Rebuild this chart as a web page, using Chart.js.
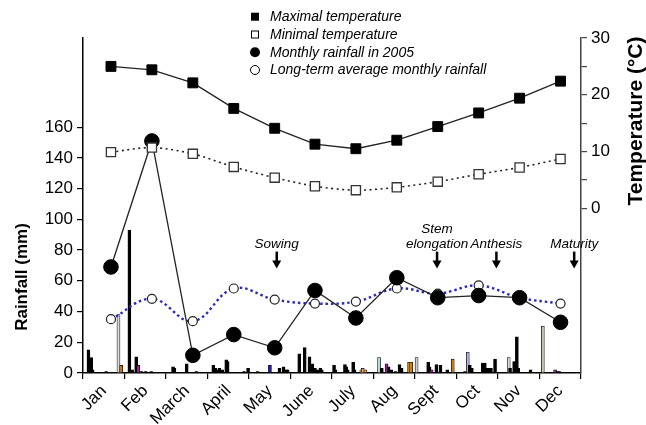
<!DOCTYPE html>
<html>
<head>
<meta charset="utf-8">
<script src="https://cdn.jsdelivr.net/npm/chart.js@4.4.1/dist/chart.umd.min.js"></script>
<style>
  html, body { margin: 0; padding: 0; background: #fff; }
  #wrap { width: 646px; height: 425px; }
</style>
</head>
<body>
<div id="wrap"><canvas id="climateChart" width="646" height="425"></canvas></div>
<script>
// monthly values, plotted on a day-of-year scale
const months = ['Jan', 'Feb', 'March', 'April', 'May', 'June', 'July', 'Aug', 'Sept', 'Oct', 'Nov', 'Dec'];
const monthDay = [20.5, 50.5, 80.5, 110.5, 140.5, 170, 200, 230, 260, 290, 320, 350];
const maxTemp = [25.0, 24.4, 22.1, 17.6, 14.1, 11.3, 10.5, 12.0, 14.4, 16.8, 19.4, 22.4];
const minTemp = [9.9, 10.7, 9.6, 7.3, 5.4, 3.9, 3.2, 3.7, 4.7, 6.0, 7.2, 8.7];
const rain2005 = [69, 151, 11.5, 25, 16.4, 53.7, 35.8, 62, 49, 50.4, 49, 33];
const rainLongTerm = [35, 48.3, 33.7, 55, 47.8, 45.2, 46.5, 55, 51.7, 57, 49, 45.2];

// daily rainfall 2005 (day of year, mm)
const dailyDay = [4, 6, 7, 17, 26, 28, 34, 36, 39, 40.5, 43, 46, 50, 66, 67, 76, 83,
  95.5, 97, 99, 100, 102, 105, 106, 118, 121, 128, 137, 144, 147, 149, 150,
  158.5, 162.5, 166, 168, 170, 172, 174, 175, 184, 185, 192, 193, 194, 198, 199, 204, 205, 207,
  217, 219, 222.5, 224, 226, 229, 232, 233.5, 239, 240.5, 244.5,
  253, 254, 255.5, 259, 262, 267, 271, 280, 282, 283.5, 285, 293, 294.5, 296, 297.5, 299, 302,
  312, 313, 316, 317, 318, 319, 328, 337, 346, 347.5, 349];
const dailyMm = [15, 10, 2, 1, 38, 5, 93, 2, 10.5, 5, 1, 1, 1, 4, 3, 6, 1,
  5, 3, 2, 3, 2, 8.5, 7.5, 1, 3, 1, 5, 3, 4, 2, 2,
  12.5, 16.5, 10.5, 6, 3, 2, 3, 2, 5, 2, 5.5, 4, 2, 7, 2, 2, 3, 2,
  10, 3, 6, 4, 2, 1, 5.5, 3, 7, 7, 10,
  7, 4, 2, 5.5, 5, 2, 9, 1, 13.5, 5, 3, 6.5, 6.5, 3, 3, 3, 9,
  10, 3, 7.5, 5, 23.5, 3, 2, 30.5, 2, 1, 1];

// crop stages
const stageNames = [['Sowing'], ['Stem', 'elongation'], ['Anthesis'], ['Maturity']];
const stageDay = [142, 259.5, 303, 360];

const rainTicks = [0, 20, 40, 60, 80, 100, 120, 140, 160];
const tempTicks = [0, 5, 10, 15, 20, 25, 30];

// fill colours of the few coloured daily bars, everything else black
const barFill = {
  26: '#dcdcdc', 28: '#c8781e', 40.5: '#b01ab0', 137: '#1a1ab4',
  204: '#e0a870', 205: '#e0a870', 207: '#e0a870', 217: '#b4dcdc', 222.5: '#a020a0',
  239: '#c8861e', 240.5: '#c8861e', 244.5: '#d0d0d0', 255.5: '#a020a0', 271: '#d07c10',
  282: '#a8b0e8', 312: '#d8d8d8', 337: '#c4c4a4', 346: '#903090'
};

const FONT = '"Liberation Sans", Arial, sans-serif';
const pts = arr => arr.map((v, i) => ({ x: monthDay[i], y: v }));

const overlay = {
  id: 'overlay',
  afterDraw(chart) {
    const ctx = chart.ctx;
    const xd = chart.scales.xd, yr = chart.scales.yRain;
    ctx.save();
    ctx.fillStyle = '#000';

    // axis titles
    ctx.font = 'bold 17px ' + FONT;
    ctx.textAlign = 'center';
    ctx.textBaseline = 'middle';
    ctx.save();
    ctx.translate(22, 277);
    ctx.rotate(-Math.PI / 2);
    ctx.fillText('Rainfall (mm)', 0, 0);
    ctx.restore();
    ctx.save();
    ctx.font = 'bold 21px ' + FONT;
    ctx.translate(636, 121);
    ctx.rotate(-Math.PI / 2);
    ctx.fillText('Temperature (\u00b0C)', 0, 0);
    ctx.restore();

    // legend
    const lx = 255, tx = 270, rows = [16.7, 34.5, 52.2, 70];
    const labels = ['Maximal temperature', 'Minimal temperature', 'Monthly rainfall in 2005', 'Long-term average monthly rainfall'];
    ctx.font = 'italic 14px ' + FONT;
    ctx.textAlign = 'left';
    labels.forEach((t, i) => {
      const y = rows[i];
      ctx.lineWidth = 1;
      ctx.strokeStyle = '#000';
      if (i === 0) { ctx.fillRect(lx - 4, y - 4, 8, 8); }
      if (i === 1) { ctx.strokeRect(lx - 3.5, y - 3.5, 7, 7); }
      if (i === 2) { ctx.beginPath(); ctx.arc(lx, y, 5, 0, 2 * Math.PI); ctx.fill(); }
      if (i === 3) { ctx.beginPath(); ctx.arc(lx, y, 4.5, 0, 2 * Math.PI); ctx.stroke(); }
      ctx.fillText(t, tx, y + 0.5);
    });

    // crop stages with arrows
    ctx.font = 'italic 13.5px ' + FONT;
    ctx.textAlign = 'center';
    const textY = yr.getPixelForValue(84);
    const topY = yr.getPixelForValue(79);
    const tipY = yr.getPixelForValue(68);
    stageDay.forEach((d, i) => {
      const x = xd.getPixelForValue(d);
      const lines = stageNames[i];
      lines.forEach((t, j) => {
        ctx.fillText(t, x, textY - (lines.length - 1 - j) * 14.5);
      });
      ctx.lineWidth = 2.5;
      ctx.beginPath();
      ctx.moveTo(x, topY);
      ctx.lineTo(x, tipY - 7);
      ctx.stroke();
      ctx.beginPath();
      ctx.moveTo(x - 4.5, tipY - 8);
      ctx.lineTo(x + 4.5, tipY - 8);
      ctx.lineTo(x, tipY);
      ctx.closePath();
      ctx.fill();
    });
    ctx.restore();
  }
};

new Chart(document.getElementById('climateChart'), {
  type: 'line',
  data: {
    labels: months,
    datasets: [
      {
        label: 'Minimal temperature',
        data: pts(minTemp),
        xAxisID: 'xd', yAxisID: 'yTemp',
        borderColor: '#222', borderWidth: 1.6, borderDash: [2, 3.5],
        tension: 0.3,
        pointStyle: 'rect', pointRadius: 6.5,
        pointBackgroundColor: '#fff', pointBorderColor: '#333', pointBorderWidth: 1.3,
        order: 0
      },
      {
        label: 'Maximal temperature',
        data: pts(maxTemp),
        xAxisID: 'xd', yAxisID: 'yTemp',
        borderColor: '#222', borderWidth: 1.3,
        tension: 0,
        pointStyle: 'rect', pointRadius: 7,
        pointBackgroundColor: '#000', pointBorderColor: '#000', pointBorderWidth: 1,
        order: 1
      },
      {
        label: 'Monthly rainfall in 2005',
        data: pts(rain2005),
        xAxisID: 'xd', yAxisID: 'yRain',
        borderColor: '#222', borderWidth: 1.3,
        tension: 0,
        pointStyle: 'circle', pointRadius: 7.3,
        pointBackgroundColor: '#000', pointBorderColor: '#000', pointBorderWidth: 1,
        order: 2
      },
      {
        label: 'Long-term average monthly rainfall',
        data: pts(rainLongTerm),
        xAxisID: 'xd', yAxisID: 'yRain',
        borderColor: '#2a2ab8', borderWidth: 2.4, borderDash: [2.5, 3],
        tension: 0.4,
        pointStyle: 'circle', pointRadius: 4.5,
        pointBackgroundColor: '#fff', pointBorderColor: '#222', pointBorderWidth: 1.2,
        order: 3
      },
      {
        type: 'bar',
        label: 'Daily rainfall',
        data: dailyDay.map((d, i) => ({ x: d, y: dailyMm[i] })),
        xAxisID: 'xd', yAxisID: 'yRain',
        backgroundColor: dailyDay.map(d => barFill[d] || '#000'),
        borderColor: '#000', borderWidth: 0.7,
        barThickness: 3,
        order: 4
      }
    ]
  },
  options: {
    responsive: false,
    animation: false,
    layout: { padding: { top: 38, left: 0, right: 0, bottom: 0 } },
    plugins: { legend: { display: false }, tooltip: { enabled: false } },
    scales: {
      x: {
        type: 'category',
        labels: months,
        position: 'bottom',
        offset: true,
        grid: { offset: true, drawOnChartArea: false, tickLength: 6, color: '#000', lineWidth: 1.2 },
        border: { color: '#000', width: 1.5 },
        ticks: { minRotation: 45, maxRotation: 45, padding: 2, color: '#000', font: { family: FONT, size: 17 } },
        afterFit: s => { s.height = 52; }
      },
      xd: {
        type: 'linear', display: false, min: 0, max: 365, offset: false
      },
      yRain: {
        type: 'linear', position: 'left', min: 0, max: 218,
        afterBuildTicks: s => { s.ticks = rainTicks.map(v => ({ value: v })); },
        grid: { drawOnChartArea: false, tickLength: 6, color: '#000', lineWidth: 1.2 },
        border: { color: '#000', width: 1.5 },
        ticks: { padding: 4, color: '#000', font: { family: FONT, size: 17 } },
        afterFit: s => { s.width = 83; }
      },
      yTemp: {
        type: 'linear', position: 'right', min: -29, max: 30,
        afterBuildTicks: s => { s.ticks = tempTicks.map(v => ({ value: v })); },
        grid: { drawOnChartArea: false, tickLength: 6, color: '#444', lineWidth: 1.2 },
        border: { color: '#444', width: 1.5 },
        ticks: {
          padding: 4, color: '#000', font: { family: FONT, size: 17 },
          callback: v => (v % 10 === 0 ? v : '')
        },
        afterFit: s => { s.width = 65; }
      }
    }
  },
  plugins: [overlay]
});
</script>
</body>
</html>
